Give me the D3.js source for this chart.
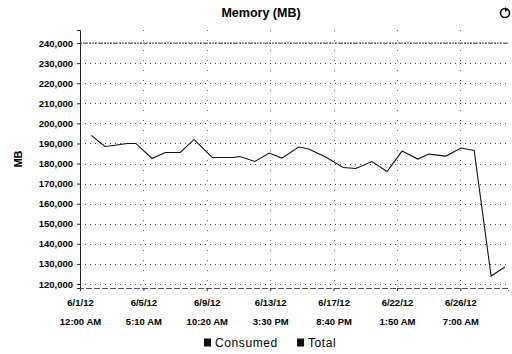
<!DOCTYPE html>
<html>
<head>
<meta charset="utf-8">
<script src="https://cdn.jsdelivr.net/npm/d3@7"></script>
<style>
  body { margin: 0; background: #fff; }
  text { font-family: "Liberation Sans", Arial, sans-serif; fill: #000; }
  .tick-label { font-size: 9.5px; font-weight: bold; }
  .title { font-size: 12.5px; font-weight: bold; }
  .legend-label { font-size: 12px; letter-spacing: 0.6px; }
</style>
</head>
<body>
<div id="chart"></div>
<script>
// series: Consumed memory (MB), sampled times
const consumedTimes = [
  '2012-06-01T18:00', '2012-06-02T16:00', '2012-06-03T05:00', '2012-06-04T03:00',
  '2012-06-04T17:00', '2012-06-05T19:00', '2012-06-06T16:00', '2012-06-07T16:00',
  '2012-06-08T14:00', '2012-06-09T19:00', '2012-06-11T04:00', '2012-06-11T15:00',
  '2012-06-12T15:00', '2012-06-13T14:00', '2012-06-14T10:00', '2012-06-15T13:00',
  '2012-06-16T05:00', '2012-06-17T08:00', '2012-06-18T12:00', '2012-06-19T08:00',
  '2012-06-20T10:00', '2012-06-21T10:00', '2012-06-22T10:00', '2012-06-23T11:00',
  '2012-06-24T05:00', '2012-06-25T08:00', '2012-06-26T08:00', '2012-06-27T05:00',
  '2012-06-28T08:00', '2012-06-29T06:00'
];
const consumedValues = [
  194000, 188500, 189000, 190000,
  190000, 182500, 185500, 185500,
  192000, 183000, 183000, 183500,
  181000, 185200, 182700, 188200,
  187200, 183200, 178000, 177500,
  181000, 176000, 186200, 182200,
  184700, 183700, 187700, 186500,
  124000, 128500
];
// series: Total memory (MB), flat
const totalTimes = ['2012-06-01T00:00', '2012-06-29T11:00'];
const totalValues = [240000, 240000];

const yTicks = [120000, 130000, 140000, 150000, 160000, 170000, 180000,
                190000, 200000, 210000, 220000, 230000, 240000];
const xTickTimes = ['2012-06-01T00:00', '2012-06-05T05:10', '2012-06-09T10:20',
                    '2012-06-13T15:30', '2012-06-17T20:40', '2012-06-22T01:50',
                    '2012-06-26T07:00'];
const legendNames = ['Consumed', 'Total'];

class MemoryChart {
    constructor() {
        this.margin = { top: 30, right: 4, bottom: 66, left: 80 };
        this.width = 512 - this.margin.left - this.margin.right;
        this.height = 354 - this.margin.top - this.margin.bottom;
        this.drawChart();
    }

    drawChart() {
        const parse = d3.timeParse('%Y-%m-%dT%H:%M');
        const svg = d3.select('#chart').append('svg')
            .attr('width', 512)
            .attr('height', 354);

        const g = svg.append('g')
            .attr('transform', 'translate(' + this.margin.left + ',' + this.margin.top + ')');

        const x = d3.scaleTime()
            .domain([parse(totalTimes[0]), parse(totalTimes[1])])
            .range([0, this.width]);
        const y = d3.scaleLinear()
            .domain([118000, 246500])
            .range([this.height, 0]);

        // horizontal dotted grid
        g.append('g')
            .selectAll('line')
            .data(yTicks)
            .join('line')
            .attr('x1', 0).attr('x2', this.width)
            .attr('y1', d => Math.round(y(d)) + 0.5).attr('y2', d => Math.round(y(d)) + 0.5)
            .attr('stroke', '#444')
            .attr('stroke-width', 1)
            .attr('stroke-dasharray', '1,4');

        // vertical dotted grid
        g.append('g')
            .selectAll('line')
            .data(xTickTimes.slice(1))
            .join('line')
            .attr('x1', d => Math.round(x(parse(d))) + 0.5)
            .attr('x2', d => Math.round(x(parse(d))) + 0.5)
            .attr('y1', 0).attr('y2', this.height)
            .attr('stroke', '#666')
            .attr('stroke-width', 1)
            .attr('stroke-dasharray', '1,9');

        // axes
        const yAxis = d3.axisLeft(y)
            .tickValues(yTicks)
            .tickSize(3)
            .tickFormat(d3.format(','));
        const yg = g.append('g').call(yAxis);
        yg.select('.domain').attr('stroke', '#222');
        yg.selectAll('.tick line').attr('stroke', '#222');
        yg.selectAll('.tick text')
            .attr('class', 'tick-label')
            .attr('x', -7)
            .style('font-family', '"Liberation Sans", Arial, sans-serif')
            .style('font-size', '9.5px');

        const xAxis = d3.axisBottom(x)
            .tickValues(xTickTimes.map(parse))
            .tickSize(3)
            .tickFormat('');
        const xg = g.append('g')
            .attr('transform', 'translate(0,' + this.height + ')')
            .call(xAxis);
        xg.select('.domain').attr('stroke', '#555').attr('stroke-dasharray', '6,2');
        xg.selectAll('.tick line').attr('stroke', '#333');
        const fmtDate = d3.timeFormat('%-m/%-d/%y');
        const fmtTime = d3.timeFormat('%-I:%M %p');
        xg.selectAll('.tick').each(function(d) {
            const t = d3.select(this);
            t.append('text').attr('class', 'tick-label')
                .attr('text-anchor', 'middle').attr('y', 18).text(fmtDate(d));
            t.append('text').attr('class', 'tick-label')
                .attr('text-anchor', 'middle').attr('y', 37).text(fmtTime(d));
        });

        // total line
        const totalData = totalTimes.map((t, i) => ({ t: parse(t), v: totalValues[i] }));
        const line = d3.line().x(d => x(d.t)).y(d => y(d.v));
        g.append('path')
            .datum(totalData)
            .attr('d', line)
            .attr('fill', 'none')
            .attr('stroke', '#333')
            .attr('stroke-width', 1)
            .attr('stroke-dasharray', '2,1');

        // consumed line
        const consumedData = consumedTimes.map((t, i) => ({ t: parse(t), v: consumedValues[i] }));
        g.append('path')
            .datum(consumedData)
            .attr('d', line)
            .attr('fill', 'none')
            .attr('stroke', '#111')
            .attr('stroke-width', 1.1);

        // title
        svg.append('text')
            .attr('class', 'title')
            .attr('x', 261).attr('y', 17)
            .attr('text-anchor', 'middle')
            .text('Memory (MB)');

        // small icon top right
        const icon = svg.append('g').attr('transform', 'translate(505,13)');
        icon.append('circle').attr('r', 4.5).attr('fill', 'none')
            .attr('stroke', '#000').attr('stroke-width', 1.6);
        icon.append('path').attr('d', 'M0,-6 L3,-3 L0,-1 Z').attr('fill', '#000');

        // y axis label
        svg.append('text')
            .attr('class', 'title')
            .style('font-size', '11px')
            .attr('transform', 'translate(22,' + (this.margin.top + this.height / 2) + ') rotate(-90)')
            .attr('text-anchor', 'middle')
            .text('MB');

        // legend
        const legend = svg.append('g').attr('transform', 'translate(204,343)');
        const offsets = [0, 93];
        legendNames.forEach((name, i) => {
            const lg = legend.append('g').attr('transform', 'translate(' + offsets[i] + ',0)');
            lg.append('rect').attr('x', 0).attr('y', -4.5).attr('width', 7).attr('height', 8)
                .attr('fill', '#111');
            lg.append('text').attr('class', 'legend-label')
                .attr('x', 11).attr('y', 4).text(name);
        });
    }
}

new MemoryChart();
</script>
</body>
</html>
